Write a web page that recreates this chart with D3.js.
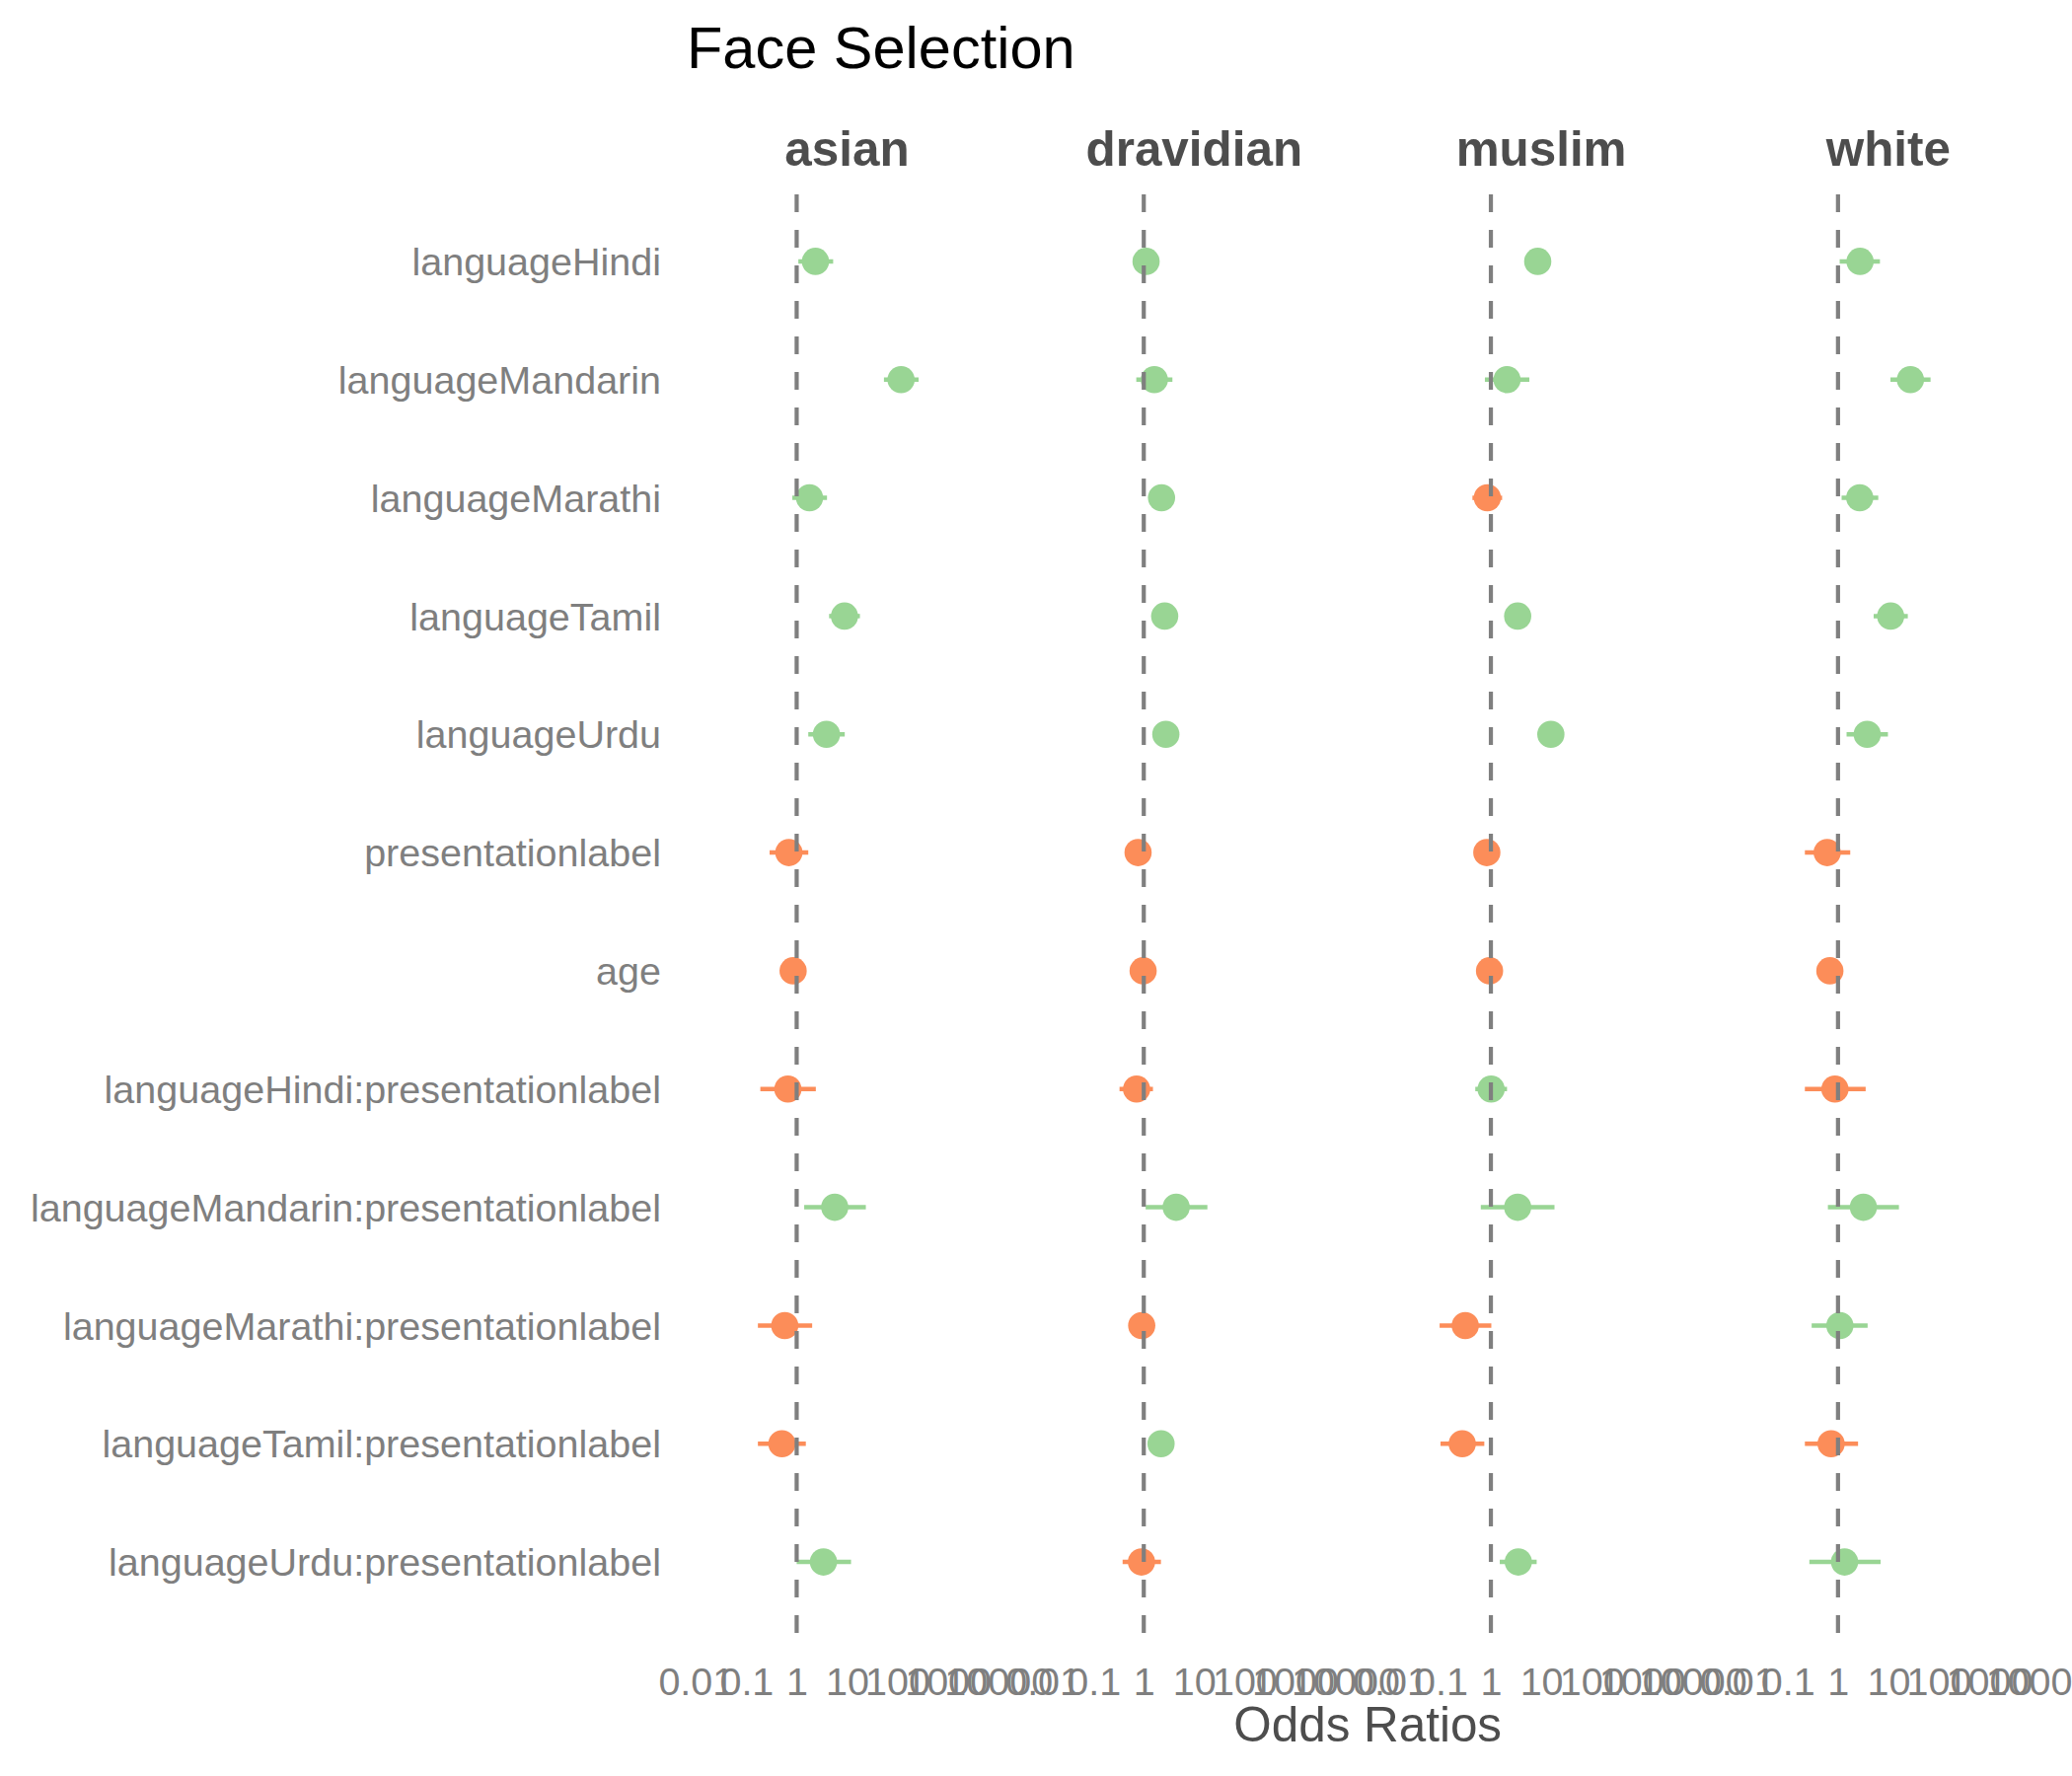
<!DOCTYPE html>
<html>
<head>
<meta charset="utf-8">
<script src="https://cdn.jsdelivr.net/npm/d3@7"></script>
<style>
  html, body { margin: 0; padding: 0; background: #ffffff; }
  svg { display: block; }
  text { font-family: "Liberation Sans", Arial, Helvetica, sans-serif; }
</style>
</head>
<body>
<div id="chart"></div>
<script>
// ---------------- data ----------------
const terms = [
  "languageHindi", "languageMandarin", "languageMarathi", "languageTamil", "languageUrdu",
  "presentationlabel", "age",
  "languageHindi:presentationlabel", "languageMandarin:presentationlabel",
  "languageMarathi:presentationlabel", "languageTamil:presentationlabel",
  "languageUrdu:presentationlabel"
];
const faces = ["asian", "dravidian", "muslim", "white"];
const tickValues = [0.01, 0.1, 1, 10, 100, 1000, 10000];
const tickLabels = ["0.01", "0.1", "1", "10", "100", "1000", "10000"];

// odds ratios, lower and upper confidence bounds, in the order of `terms`
const asianOR  = [2.36, 118, 1.8, 8.9, 3.9, 0.70, 0.85, 0.67, 5.7, 0.58, 0.51, 3.4];
const asianLo  = [1.08, 54, 0.82, 4.4, 1.7, 0.29, 0.75, 0.19, 1.41, 0.17, 0.17, 1.0];
const asianHi  = [5.3, 263, 4.0, 18, 9.0, 1.7, 0.97, 2.4, 23.6, 2.03, 1.52, 12];

const dravOR   = [1.11, 1.62, 2.25, 2.6, 2.74, 0.77, 0.97, 0.72, 4.4, 0.91, 2.2, 0.90];
const dravLo   = [0.8, 0.71, 1.6, 1.9, 2.0, 0.6, 0.9, 0.33, 1.09, 0.65, 1.5, 0.38];
const dravHi   = [1.5, 3.7, 3.1, 3.6, 3.8, 0.99, 1.05, 1.52, 18.3, 1.28, 3.2, 2.19];

const muslimOR = [8.5, 2.09, 0.85, 3.4, 15.5, 0.83, 0.94, 1.01, 3.4, 0.31, 0.27, 3.5];
const muslimLo = [6, 0.76, 0.43, 2.4, 11, 0.7, 0.88, 0.49, 0.63, 0.096, 0.1, 1.5];
const muslimHi = [12, 5.8, 1.67, 4.7, 21, 0.98, 1.0, 2.09, 18.3, 1.02, 0.74, 8.1];

const whiteOR  = [2.74, 27.4, 2.7, 11.1, 3.8, 0.61, 0.69, 0.87, 3.19, 1.09, 0.73, 1.35];
const whiteLo  = [1.08, 11, 1.18, 5.1, 1.48, 0.22, 0.6, 0.22, 0.63, 0.30, 0.22, 0.27];
const whiteHi  = [6.8, 68.7, 6.3, 24.3, 9.8, 1.75, 0.78, 3.54, 16.2, 3.87, 2.5, 7.0];

const seriesByFace = {
  asian:     { or: asianOR,  lo: asianLo,  hi: asianHi },
  dravidian: { or: dravOR,   lo: dravLo,   hi: dravHi },
  muslim:    { or: muslimOR, lo: muslimLo, hi: muslimHi },
  white:     { or: whiteOR,  lo: whiteLo,  hi: whiteHi }
};

// ---------------- layout ----------------
const width = 2100, height = 1800;
const panelLeft = 690, panelW = 337, panelGap = 14.8;
const panelTop = 193, panelBottom = 1655;
const colPos = "#99d594", colNeg = "#fc8d59";

const svg = d3.select("#chart").append("svg")
  .attr("width", width).attr("height", height)
  .attr("viewBox", `0 0 ${width} ${height}`);

svg.append("rect").attr("width", width).attr("height", height).attr("fill", "#ffffff");

const y = d3.scalePoint().domain(terms).range([panelTop, panelBottom]).padding(0.6);

// x scale: limits 0.01..10000 with 5% (log) expansion
const lo = Math.log10(0.01), hi = Math.log10(10000), ex = (hi - lo) * 0.05;
const xDomain = [Math.pow(10, lo - ex), Math.pow(10, hi + ex)];

// title
svg.append("text")
  .attr("x", 696).attr("y", 69)
  .attr("font-size", 59.5).attr("fill", "#000000")
  .text("Face Selection");

// y axis labels
svg.append("g").selectAll("text").data(terms).join("text")
  .attr("x", 670).attr("y", d => y(d))
  .attr("dy", "0.36em")
  .attr("text-anchor", "end")
  .attr("font-size", 39.5).attr("fill", "#7f7f7f")
  .text(d => d);

faces.forEach((face, i) => {
  const x0 = panelLeft + i * (panelW + panelGap);
  const x = d3.scaleLog().domain(xDomain).range([x0, x0 + panelW]);
  const s = seriesByFace[face];
  const rows = terms.map((t, k) => ({ term: t, or: s.or[k], lo: s.lo[k], hi: s.hi[k] }));
  const g = svg.append("g");

  // strip label
  g.append("text")
    .attr("x", x0 + panelW / 2).attr("y", 168)
    .attr("text-anchor", "middle")
    .attr("font-size", 49.4).attr("font-weight", "bold").attr("fill", "#4d4d4d")
    .text(face);

  // error bars
  g.selectAll("line.err").data(rows).join("line")
    .attr("class", "err")
    .attr("x1", d => x(d.lo)).attr("x2", d => x(d.hi))
    .attr("y1", d => y(d.term)).attr("y2", d => y(d.term))
    .attr("stroke", d => d.or > 1 ? colPos : colNeg)
    .attr("stroke-width", 4.5);

  // points
  g.selectAll("circle").data(rows).join("circle")
    .attr("cx", d => x(d.or)).attr("cy", d => y(d.term))
    .attr("r", 13.8)
    .attr("fill", d => d.or > 1 ? colPos : colNeg);

  // reference line at 1
  g.append("line")
    .attr("x1", x(1)).attr("x2", x(1))
    .attr("y1", panelBottom).attr("y2", panelTop)
    .attr("stroke", "#7f7f7f").attr("stroke-width", 4.2)
    .attr("stroke-dasharray", "18,18");

  // x axis (no ticks / domain line, labels only)
  const axis = d3.axisBottom(x)
    .tickValues(tickValues)
    .tickFormat((d, k) => tickLabels[k])
    .tickSize(0).tickPadding(0);
  const ax = svg.append("g").attr("transform", `translate(0,${panelBottom})`).call(axis);
  ax.select(".domain").remove();
  ax.selectAll("text")
    .attr("y", 63).attr("dy", 0)
    .attr("font-size", 39.5).attr("fill", "#7f7f7f")
    .attr("font-family", "'Liberation Sans', Arial, Helvetica, sans-serif");
});

// x axis title
svg.append("text")
  .attr("x", panelLeft + (4 * panelW + 3 * panelGap) / 2).attr("y", 1765)
  .attr("text-anchor", "middle")
  .attr("font-size", 49.4).attr("fill", "#4d4d4d")
  .text("Odds Ratios");
</script>
</body>
</html>
